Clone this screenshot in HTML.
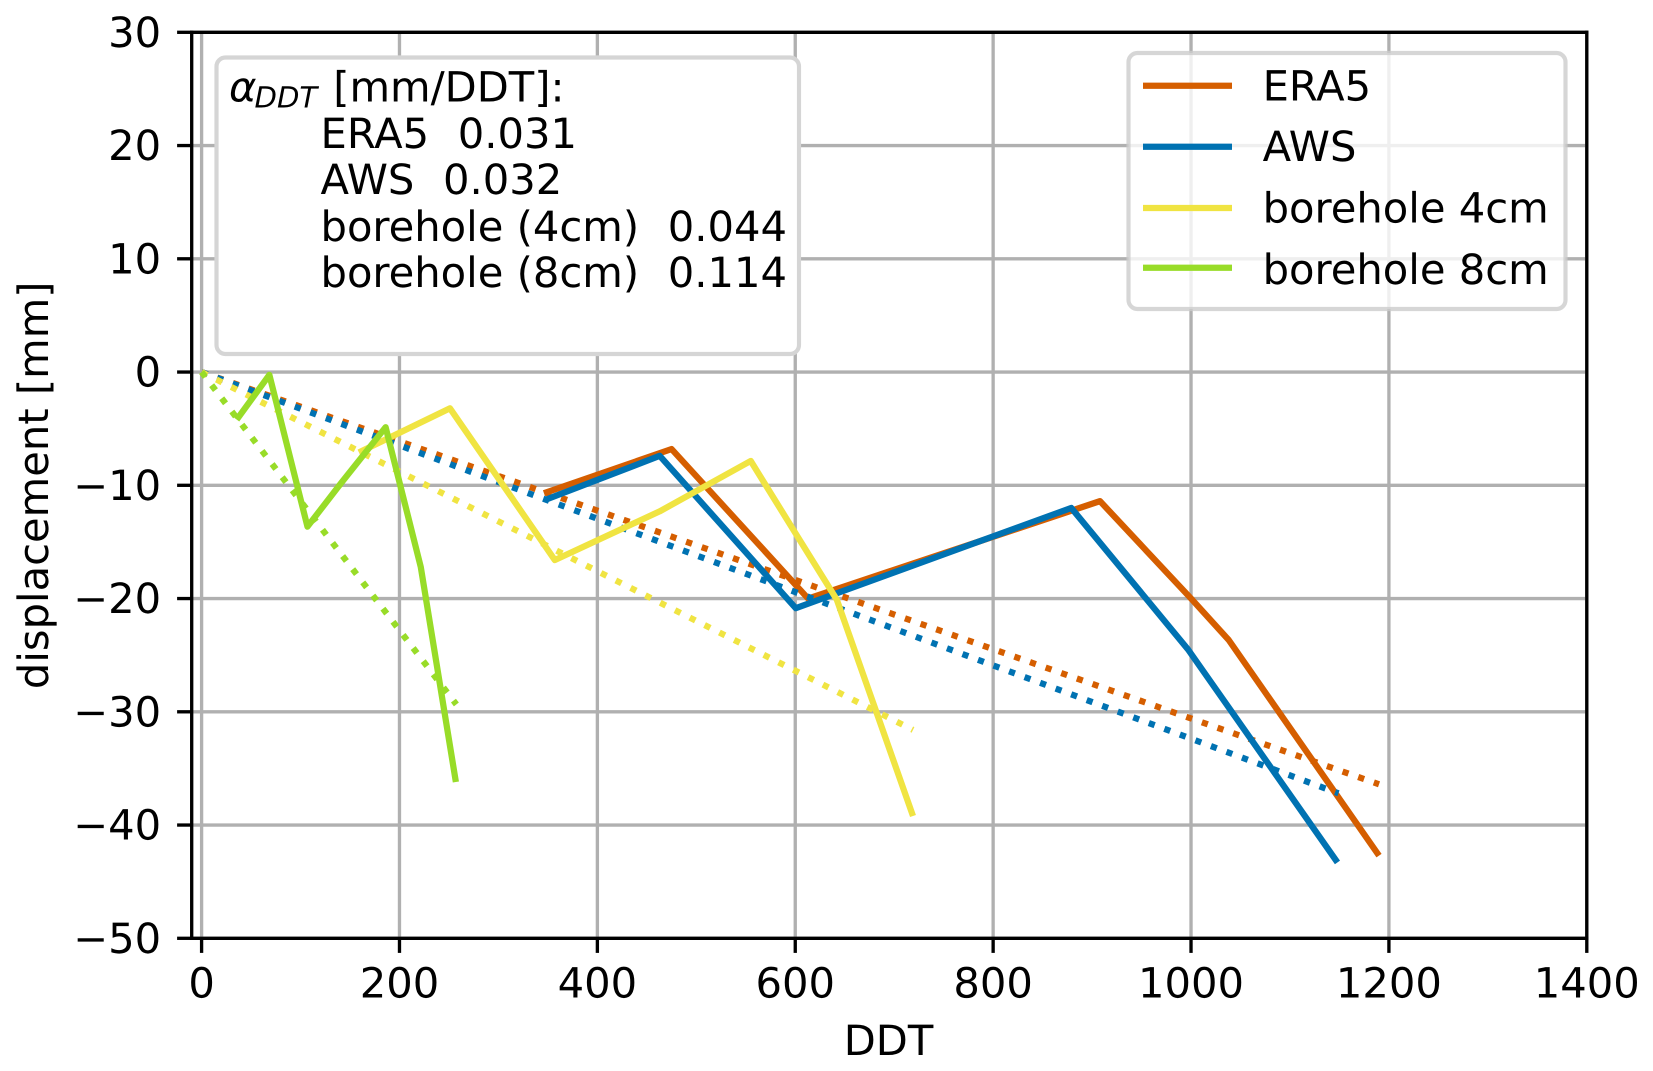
<!DOCTYPE html>
<html lang="en">
<head>
<meta charset="utf-8">
<title>Displacement vs DDT</title>
<style>
html,body{margin:0;padding:0;background:#fff;width:1653px;height:1071px;overflow:hidden}
svg{display:block}
text{font-family:"DejaVu Sans","Liberation Sans",sans-serif;font-size:41.67px;fill:#000;text-rendering:geometricPrecision;white-space:pre}
</style>
</head>
<body>
<svg id="chart" xmlns="http://www.w3.org/2000/svg" width="1653" height="1071" viewBox="0 0 1653 1071">
  <rect x="0" y="0" width="1653" height="1071" fill="#fff"/>
  <g id="grid"></g>
  <g id="series"></g>
  <g id="info">
    <rect x="216.5" y="57.5" width="582.5" height="296.5" rx="9" fill="#fff" stroke="#d5d5d5" stroke-width="4.17"/>
    <text x="229" y="101.7" font-style="italic">α</text>
    <text x="254.5" y="107.5" font-style="italic" style="font-size:29.17px">DDT</text>
    <text x="333.2" y="101.7">[mm/DDT]:</text>
    <text x="320.5" y="148">ERA5  <tspan dx="2.2">0.031</tspan></text>
    <text x="320.5" y="194.2">AWS  <tspan dx="2.2">0.032</tspan></text>
    <text x="320.5" y="240.8">borehole (4cm)  <tspan dx="2.2">0.044</tspan></text>
    <text x="320.5" y="287.2">borehole (8cm)  <tspan dx="2.2">0.114</tspan></text>
  </g>
  <g id="axes"></g>
  <g id="legend">
    <rect x="1128.5" y="53" width="437" height="256" rx="9" fill="#fff" fill-opacity="0.8" stroke="#cccccc" stroke-opacity="0.8" stroke-width="4.17"/>
    <line x1="1143" x2="1232" y1="85.7" y2="85.7" stroke="#D55E00" stroke-width="6.25"/>
    <text x="1262.6" y="100.7">ERA5</text>
    <line x1="1143" x2="1232" y1="146.7" y2="146.7" stroke="#0072B2" stroke-width="6.25"/>
    <text x="1262.6" y="161">AWS</text>
    <line x1="1143" x2="1232" y1="208" y2="208" stroke="#F0E442" stroke-width="6.25"/>
    <text x="1262.6" y="222.5">borehole 4cm</text>
    <line x1="1143" x2="1232" y1="267.7" y2="267.7" stroke="#98DC28" stroke-width="6.25"/>
    <text x="1262.6" y="284">borehole 8cm</text>
  </g>
</svg>
<script>
// Chart data
const xTicks = [0, 200, 400, 600, 800, 1000, 1200, 1400];
const yTicks = [30, 20, 10, 0, -10, -20, -30, -40, -50];

const era5X = [346, 475, 613, 908, 1000, 1038, 1190];
const era5Y = [-10.7, -6.8, -20.0, -11.4, -20.0, -23.65, -42.7];
const era5FitX = [0, 1190];
const era5FitY = [0, -36.4];

const awsX = [347, 463, 600.5, 879, 997, 1148];
const awsY = [-11.3, -7.4, -20.85, -12.0, -24.5, -43.3];
const awsFitX = [0, 1149];
const awsFitY = [0, -37.2];

const bh4X = [159, 251, 357, 463, 555, 600, 642, 719];
const bh4Y = [-7.1, -3.2, -16.6, -12.3, -7.85, -14.2, -20.1, -39.2];
const bh4FitX = [0, 719];
const bh4FitY = [0, -31.6];

const bh8X = [35.5, 68.5, 107, 141.5, 186, 221.5, 257];
const bh8Y = [-4.2, -0.25, -13.65, -9.75, -4.87, -17.2, -36.2];
const bh8FitX = [0, 257.5];
const bh8FitY = [0, -29.35];

const NS = 'http://www.w3.org/2000/svg';
const plotLeft = 191.7, plotRight = 1586.8, plotTop = 32.3, plotBottom = 938.3;
const xMin = -10, xMax = 1400, yMin = -50, yMax = 30;
function xScale(v) { return plotLeft + (v - xMin) / (xMax - xMin) * (plotRight - plotLeft); }
function yScale(v) { return plotBottom - (v - yMin) / (yMax - yMin) * (plotBottom - plotTop); }

function strokeLine(parent, x1, y1, x2, y2, color, cap) {
  const el = document.createElementNS(NS, 'line');
  el.setAttribute('x1', x1);
  el.setAttribute('y1', y1);
  el.setAttribute('x2', x2);
  el.setAttribute('y2', y2);
  el.setAttribute('stroke', color);
  el.setAttribute('stroke-width', 3.33);
  el.setAttribute('stroke-linecap', cap);
  parent.appendChild(el);
  return el;
}

const gridG = document.getElementById('grid');
const axesG = document.getElementById('axes');

xTicks.forEach(function (t) {
  const x = xScale(t);
  const g = strokeLine(gridG, x, plotTop, x, plotBottom, '#b0b0b0', 'butt');
  
  
  const m = strokeLine(axesG, x, plotBottom, x, plotBottom + 14.6, '#000', 'butt');
  
  
  const l = document.createElementNS(NS, 'text');
  
  
  l.setAttribute('x', x);
  l.setAttribute('y', 997.3);
  l.setAttribute('text-anchor', 'middle');
  l.textContent = String(t);
  axesG.appendChild(l);
});

yTicks.forEach(function (t) {
  const y = yScale(t);
  const g = strokeLine(gridG, plotLeft, y, plotRight, y, '#b0b0b0', 'butt');
  
  
  const m = strokeLine(axesG, plotLeft, y, plotLeft - 14.6, y, '#000', 'butt');
  
  
  const l = document.createElementNS(NS, 'text');
  
  
  l.setAttribute('x', 161.2);
  l.setAttribute('y', y + 14.6);
  l.setAttribute('text-anchor', 'end');
  l.textContent = String(t).replace('-', '\u2212');
  axesG.appendChild(l);
});

const spineCoords = [
  ['spine-left', plotLeft, plotTop, plotLeft, plotBottom],
  ['spine-right', plotRight, plotTop, plotRight, plotBottom],
  ['spine-top', plotLeft, plotTop, plotRight, plotTop],
  ['spine-bottom', plotLeft, plotBottom, plotRight, plotBottom]
];
spineCoords.forEach(function (s) {
  const sp = strokeLine(axesG, s[1], s[2], s[3], s[4], '#000', 'square');
  
  
});

const xTitle = document.createElementNS(NS, 'text');


xTitle.setAttribute('x', 888.5);
xTitle.setAttribute('y', 1055);
xTitle.setAttribute('text-anchor', 'middle');
xTitle.textContent = 'DDT';
axesG.appendChild(xTitle);

const yTitle = document.createElementNS(NS, 'text');


yTitle.setAttribute('text-anchor', 'middle');
yTitle.setAttribute('transform', 'translate(48 485.3) rotate(-90)');
yTitle.textContent = 'displacement [mm]';
axesG.appendChild(yTitle);

const seriesG = document.getElementById('series');
function drawPath(xs, ys, color, dotted) {
  const p = document.createElementNS(NS, 'polyline');
  p.setAttribute('points', xs.map(function (x, i) {
    return xScale(x).toFixed(2) + ',' + yScale(ys[i]).toFixed(2);
  }).join(' '));
  p.setAttribute('fill', 'none');
  p.setAttribute('stroke', color);
  p.setAttribute('stroke-width', 6.25);
  p.setAttribute('stroke-linejoin', 'round');
  p.setAttribute('stroke-linecap', 'butt');
  if (dotted) {
    p.setAttribute('stroke-dasharray', '6.25 10.31');
  }
  seriesG.appendChild(p);
  return p;
}

const era5Line = drawPath(era5X, era5Y, '#D55E00', false);


const era5Fit = drawPath(era5FitX, era5FitY, '#D55E00', true);


const awsLine = drawPath(awsX, awsY, '#0072B2', false);


const awsFit = drawPath(awsFitX, awsFitY, '#0072B2', true);


const bh4Line = drawPath(bh4X, bh4Y, '#F0E442', false);


const bh4Fit = drawPath(bh4FitX, bh4FitY, '#F0E442', true);


const bh8Line = drawPath(bh8X, bh8Y, '#98DC28', false);


const bh8Fit = drawPath(bh8FitX, bh8FitY, '#98DC28', true);


</script>
</body>
</html>
